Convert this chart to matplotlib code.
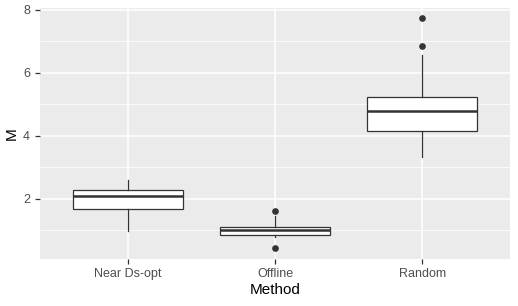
import matplotlib
matplotlib.use('Agg')
from matplotlib import pyplot as plt

plt.rcParams['font.family'] = ['Liberation Sans', 'DejaVu Sans']

# box statistics
methods = ['Near Ds-opt', 'Offline', 'Random']
whislo = [0.99, 0.78, 3.34]
q1 = [1.67, 0.857, 4.15]
med = [2.105, 1.025, 4.80]
q3 = [2.276, 1.10, 5.23]
whishi = [2.60, 1.44, 6.57]
outliers = [[], [1.61, 0.435], [7.74, 6.85]]

stats = []
for i, m in enumerate(methods):
    stats.append(dict(label=m, whislo=whislo[i], q1=q1[i], med=med[i],
                      q3=q3[i], whishi=whishi[i], fliers=outliers[i]))

fig = plt.figure(figsize=(5.18, 3.06), dpi=100)
ax = fig.add_axes([0.0768, 0.1536, 0.9087, 0.8203])
ax.set_facecolor('#EBEBEB')

dark = '#333333'
ax.bxp(stats, positions=[1, 2, 3], widths=0.75, showcaps=False, patch_artist=True,
       boxprops=dict(facecolor='white', edgecolor=dark, linewidth=0.9),
       medianprops=dict(color=dark, linewidth=1.8),
       whiskerprops=dict(color=dark, linewidth=0.9),
       flierprops=dict(marker='o', markerfacecolor=dark, markeredgecolor=dark,
                       markersize=3.8, linestyle='none'),
       zorder=3)

ax.set_xlim(0.4, 3.6)
ax.set_ylim(0.09, 8.06)
ax.set_yticks([2, 4, 6, 8])
ax.set_yticks([1, 3, 5, 7], minor=True)
ax.set_xticks([1, 2, 3])
ax.set_xticklabels(methods)

ax.grid(which='major', color='white', linewidth=1.1, zorder=0)
ax.grid(which='minor', axis='y', color='white', linewidth=0.55, zorder=0)
ax.set_axisbelow(True)
for s in ax.spines.values():
    s.set_visible(False)

ax.tick_params(axis='both', which='major', colors=dark, length=3.5, width=0.9,
               labelsize=9, labelcolor='#4D4D4D')
ax.tick_params(axis='both', which='minor', length=0)
ax.tick_params(axis='x', pad=3)

ax.set_xlabel('Method', fontsize=11, color='black', labelpad=2)
ax.set_ylabel('M', fontsize=11, color='black', labelpad=3)

fig.savefig('out.png', dpi=100)
